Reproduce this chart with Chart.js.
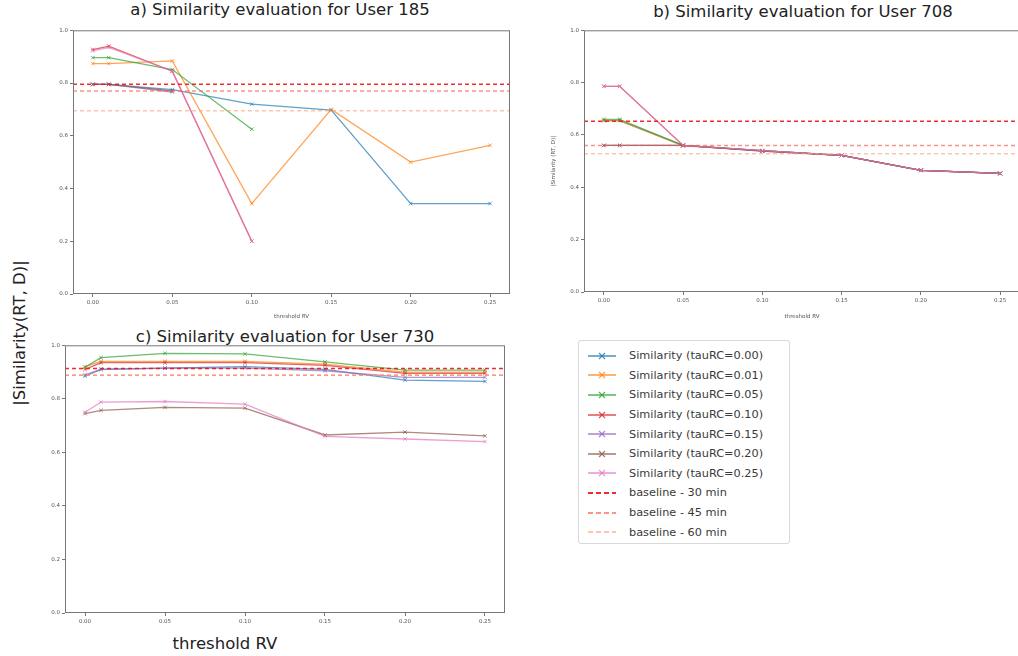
<!DOCTYPE html>
<html>
<head>
<meta charset="utf-8">
<script src="https://cdn.jsdelivr.net/npm/chart.js@4.4.0/dist/chart.umd.min.js"></script>
<style>
html, body { margin:0; padding:0; width:1018px; height:656px; overflow:hidden; background:#fff; font-family:"DejaVu Sans", sans-serif; }
canvas { position:absolute; }
.title { position:absolute; width:420px; text-align:center; font-size:16.5px; line-height:20px; color:#222; white-space:nowrap; }
.big { position:absolute; font-size:16.5px; line-height:20px; color:#222; white-space:nowrap; text-align:center; }
#legend { position:absolute; left:578px; top:340px; width:212px; height:204px; border:1px solid #d8d8d8; border-radius:3px; box-sizing:border-box; padding:5px 0 0 8px; }
.row { height:19.6px; display:flex; align-items:center; font-size:11.3px; color:#3a3a3a; }
.row svg { margin-right:12px; }
</style>
</head>
<body>
<div class="title" style="left:70px; top:0px;">a) Similarity evaluation for User 185</div>
<div class="title" style="left:593px; top:2px;">b) Similarity evaluation for User 708</div>
<div class="title" style="left:75px; top:327px;">c) Similarity evaluation for User 730</div>
<div class="big" style="left:-90px; top:323px; width:220px; transform:rotate(-90deg);">|Similarity(RT, D)|</div>
<div class="big" style="left:160px; top:634px; width:130px;">threshold RV</div>

<canvas id="chartA" width="475" height="295" style="left:40px; top:25px;"></canvas>
<canvas id="chartB" width="475" height="295" style="left:550px; top:25px;"></canvas>
<canvas id="chartC" width="480" height="295" style="left:30px; top:340px;"></canvas>
<div id="legend"></div>

<script>
// === Data ===
var thresholds = [0.00, 0.01, 0.05, 0.10, 0.15, 0.20, 0.25];
var xTicks = [0.00, 0.05, 0.10, 0.15, 0.20, 0.25];
var yTicks = [0.0, 0.2, 0.4, 0.6, 0.8, 1.0];
var tauLabels = ['Similarity (tauRC=0.00)', 'Similarity (tauRC=0.01)', 'Similarity (tauRC=0.05)',
                 'Similarity (tauRC=0.10)', 'Similarity (tauRC=0.15)', 'Similarity (tauRC=0.20)',
                 'Similarity (tauRC=0.25)'];
var baselineLabels = ['baseline - 30 min', 'baseline - 45 min', 'baseline - 60 min'];

var user185 = [
    [0.795, 0.795, 0.775, 0.720, 0.697, 0.343, 0.343],
    [0.874, 0.874, 0.884, 0.343, 0.700, 0.500, 0.564],
    [0.896, 0.896, 0.851, 0.625, null, null, null],
    [0.927, 0.940, 0.845, 0.200, null, null, null],
    [0.795, 0.795, 0.766, null, null, null, null],
    [0.795, 0.795, 0.770, null, null, null, null],
    [0.922, 0.935, 0.845, 0.200, null, null, null]
];
var baseline185 = [0.795, 0.770, 0.695];

var user708 = [
    [0.655, 0.655, 0.560, 0.540, 0.522, 0.465, 0.453],
    [0.655, 0.655, 0.558, 0.540, 0.522, 0.465, 0.453],
    [0.660, 0.660, 0.560, 0.540, 0.522, 0.465, 0.453],
    [0.786, 0.786, 0.560, 0.538, 0.522, 0.465, 0.453],
    [0.560, 0.560, 0.560, 0.540, 0.522, 0.465, 0.453],
    [0.560, 0.560, 0.560, 0.538, 0.522, 0.465, 0.453],
    [0.786, 0.786, 0.560, 0.540, 0.522, 0.465, 0.453]
];
var baseline708 = [0.652, 0.560, 0.528];

var user730 = [
    [0.885, 0.910, 0.915, 0.920, 0.910, 0.870, 0.865],
    [0.920, 0.940, 0.940, 0.940, 0.930, 0.900, 0.900],
    [0.918, 0.954, 0.970, 0.968, 0.938, 0.907, 0.907],
    [0.910, 0.935, 0.935, 0.935, 0.925, 0.895, 0.895],
    [0.890, 0.910, 0.915, 0.915, 0.905, 0.880, 0.880],
    [0.745, 0.757, 0.768, 0.765, 0.665, 0.676, 0.662],
    [0.750, 0.788, 0.790, 0.780, 0.660, 0.650, 0.640]
];
var baseline730 = [0.913, 0.888, 0.888];

// === Styles ===
var tauColors = ['#1f77b4', '#ff7f0e', '#2ca02c', '#d62728', '#9467bd', '#8c564b', '#e377c2'];
var baseColors = ['rgba(240,20,20,0.9)', 'rgba(250,100,85,0.7)', 'rgba(250,160,120,0.6)'];

function fade(hex, a) {
    var n = parseInt(hex.slice(1), 16);
    return 'rgba(' + (n >> 16) + ',' + ((n >> 8) & 255) + ',' + (n & 255) + ',' + a + ')';
}

var frame = {
    id: 'frame',
    afterDraw: function(chart) {
        var a = chart.chartArea, ctx = chart.ctx;
        ctx.save();
        ctx.strokeStyle = '#777';
        ctx.lineWidth = 1;
        ctx.strokeRect(a.left + 0.5, a.top + 0.5, a.right - a.left - 1, a.bottom - a.top - 1);
        ctx.restore();
    }
};

function makeChart(id, rows, baselines, o) {
    var total = rows.length + baselines.length;
    var datasets = rows.map(function(vals, i) {
        return {
            label: tauLabels[i],
            data: thresholds.map(function(x, k) { return {x: x, y: vals[k]}; }),
            borderColor: fade(tauColors[i], 0.7),
            backgroundColor: fade(tauColors[i], 0.7),
            borderWidth: 1.3,
            pointStyle: 'crossRot',
            pointRadius: 2.5,
            pointBorderWidth: 1,
            spanGaps: false,
            order: total - i
        };
    });
    baselines.forEach(function(v, j) {
        datasets.push({
            label: baselineLabels[j],
            data: [{x: -0.0125, y: v}, {x: 0.2625, y: v}],
            borderColor: baseColors[j],
            borderWidth: 1.5,
            borderDash: [4, 3],
            pointRadius: 0,
            order: total - rows.length - j
        });
    });

    var tickFont = {family: 'DejaVu Sans', size: 5.5};
    new Chart(document.getElementById(id), {
        type: 'line',
        data: {datasets: datasets},
        options: {
            responsive: false,
            animation: false,
            layout: {padding: {top: o.padTop, right: o.padRight, left: 0, bottom: 0}},
            plugins: {legend: {display: false}, tooltip: {enabled: false}},
            scales: {
                x: {
                    type: 'linear', min: -0.0125, max: 0.2625,
                    afterBuildTicks: function(s) { s.ticks = xTicks.map(function(v) { return {value: v}; }); },
                    afterFit: function(s) { s.height = o.xH; },
                    ticks: {font: tickFont, color: '#555', padding: 2, maxRotation: 0,
                            callback: function(v) { return Number(v).toFixed(2); }},
                    grid: {display: true, drawOnChartArea: false, tickLength: 3, color: '#777'},
                    border: {display: false},
                    title: {display: o.xTitle, text: 'threshold RV', font: tickFont, color: '#555', padding: 0}
                },
                y: {
                    min: 0, max: 1,
                    afterBuildTicks: function(s) { s.ticks = yTicks.map(function(v) { return {value: v}; }); },
                    afterFit: function(s) { s.width = o.yW; },
                    ticks: {font: tickFont, color: '#555', padding: 2,
                            callback: function(v) { return Number(v).toFixed(1); }},
                    grid: {display: true, drawOnChartArea: false, tickLength: 3, color: '#777'},
                    border: {display: false},
                    title: {display: o.yTitle, text: '|Similarity (RT, D)|', font: tickFont, color: '#555', padding: 0}
                }
            }
        },
        plugins: [frame]
    });
}

makeChart('chartA', user185, baseline185, {padTop: 5, padRight: 5, xH: 26, yW: 33, xTitle: true, yTitle: false});
makeChart('chartB', user708, baseline708, {padTop: 5, padRight: 2, xH: 28, yW: 34, xTitle: true, yTitle: true});
makeChart('chartC', user730, baseline730, {padTop: 5, padRight: 5, xH: 22, yW: 35, xTitle: false, yTitle: false});

// === Legend ===
var legend = document.getElementById('legend');
function addRow(label, color, dashed) {
    var row = document.createElement('div');
    row.className = 'row';
    var svg = dashed
        ? '<svg width="30" height="8"><line x1="1" y1="4" x2="29" y2="4" stroke="' + color + '" stroke-width="2" stroke-dasharray="5,3"/></svg>'
        : '<svg width="30" height="8"><line x1="1" y1="4" x2="29" y2="4" stroke="' + color + '" stroke-width="1.5"/>' +
          '<path d="M12 1 L18 7 M18 1 L12 7" stroke="' + color + '" stroke-width="1.2"/></svg>';
    row.innerHTML = svg;
    var span = document.createElement('span');
    span.textContent = label;
    row.appendChild(span);
    legend.appendChild(row);
}
tauLabels.forEach(function(l, i) { addRow(l, fade(tauColors[i], 0.8), false); });
baselineLabels.forEach(function(l, j) { addRow(l, baseColors[j], true); });
</script>
</body>
</html>
